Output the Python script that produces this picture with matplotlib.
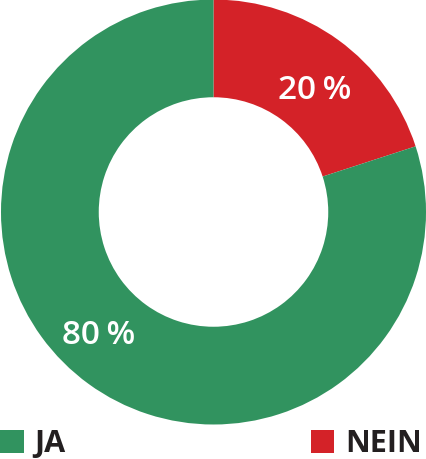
import matplotlib
matplotlib.use("Agg")
import matplotlib.pyplot as plt
import numpy as np

labels = ["NEIN", "JA"]
values = [20, 80]
colors = ["#d42228", "#31935f"]

W, H = 427, 459
fig = plt.figure(figsize=(W / 100, H / 100), dpi=100)
# donut spans ~425 px, centre at (213.5, 212) from top-left
ax = fig.add_axes([1 / W, 34.5 / H, 425 / W, 425 / H])

wedges, _ = ax.pie(values, colors=colors, startangle=90, counterclock=False,
                   radius=1.0, wedgeprops=dict(width=0.46, linewidth=0))
ax.set_xlim(-1, 1)
ax.set_ylim(-1, 1)
ax.set_aspect("equal")
ax.axis("off")

# percentage labels, placed on the ring
label_r = [0.76, 0.78]
label_shift = [3, 8]  # degrees, nudges the labels along the ring
start = 0.0
for v, r, shift in zip(values, label_r, label_shift):
    mid = start + v / 2 * 3.6 + shift
    start += v * 3.6
    a = np.deg2rad(mid)
    ax.text(r * np.sin(a), r * np.cos(a), f"{v}\u2009%",
            ha="center", va="center_baseline", color="white", fontsize=24,
            fontweight="semibold", family=["Open Sans", "DejaVu Sans"])

# legend: JA bottom left, NEIN bottom right
legend_font = dict(family="Open Sans", weight="bold", size=22)
for idx, loc, anchor in [(1, "lower left", (0.0, 0.0)), (0, "lower right", (0.988, 0.0))]:
    leg = fig.legend([wedges[idx]], [labels[idx]], loc=loc, bbox_to_anchor=anchor,
                     frameon=False, handlelength=0.78, handleheight=0.78,
                     handletextpad=0.35, borderpad=0, borderaxespad=0, prop=legend_font)
    for t in leg.get_texts():
        t.set_color("#231f20")

fig.savefig("out.png", dpi=100)
